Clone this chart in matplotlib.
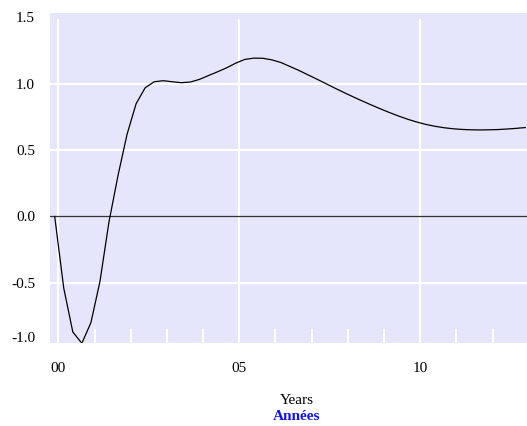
import numpy as np
import matplotlib
matplotlib.use("Agg")
import matplotlib.pyplot as plt
from matplotlib.ticker import MultipleLocator

# ------ data (quarterly) -----------------------------------------------------
values = [0.00, -0.54, -0.87, -0.955, -0.80, -0.49, -0.04, 0.31, 0.62, 0.85,
          0.97, 1.015, 1.023, 1.015, 1.008, 1.013, 1.033, 1.062, 1.09, 1.12,
          1.155, 1.183, 1.193, 1.192, 1.18, 1.16, 1.13, 1.10, 1.067, 1.034,
          1.000, 0.966, 0.933, 0.901, 0.870, 0.840, 0.811, 0.783, 0.757, 0.733,
          0.712, 0.694, 0.680, 0.669, 0.661, 0.656, 0.653, 0.652, 0.653, 0.655,
          0.659, 0.664, 0.670]
start_year = -0.1
step = 0.25
years = start_year + step*np.arange(len(values))

x_ticks = [0, 5, 10]
x_labels = ["00", "05", "10"]
y_ticks = [-0.5, 0.0, 0.5, 1.0, 1.5]
y_labels = ["-0.5", "0.0", "0.5", "1.0", "1.5"]

plt.rcParams['font.family'] = ['Liberation Serif', 'DejaVu Serif']
plt.rcParams['font.size'] = 11

fig = plt.figure(figsize=(5.27, 4.26), dpi=100)
ax = fig.add_axes([50/527, 83/426, 477/527, 330/426])
ax.set_facecolor('#e5e5fb')
for s in ax.spines.values():
    s.set_visible(False)

ax.set_xlim(-0.23, 12.95)
ax.set_ylim(-0.953, 1.533)

# ------ grid -----------------------------------------------------------------
for yv in [-0.5, 0.5, 1.0]:
    ax.axhline(yv, color='white', lw=1.6, zorder=1)
ax.vlines(x_ticks, -0.953, 1.49, color='white', lw=1.6, zorder=1)
ax.axhline(0, color='#333333', lw=0.9, zorder=2)

ax.plot(years, values, color='black', lw=0.9, zorder=3)

ax.set_xticks(x_ticks)
ax.set_xticklabels(x_labels)
ax.xaxis.set_minor_locator(MultipleLocator(1))
ax.tick_params(axis='x', which='major', length=0, pad=13.5)
ax.tick_params(axis='x', which='minor', direction='in', length=10,
               width=1.5, color='white')
ax.set_yticks(y_ticks)
ax.set_yticklabels(y_labels)
ax.tick_params(axis='y', length=0, pad=10.8)
ax.text(-15/477, 0.015, "-1.0", transform=ax.transAxes, ha='right', va='center')

fig.text(297/527, 1 - 401/426, "Years", ha='center', va='center')
fig.text(297/527, 1 - 416/426, "Années", ha='center', va='center',
         fontweight='bold', color='#1010ff')

fig.savefig("out.png", dpi=100)
